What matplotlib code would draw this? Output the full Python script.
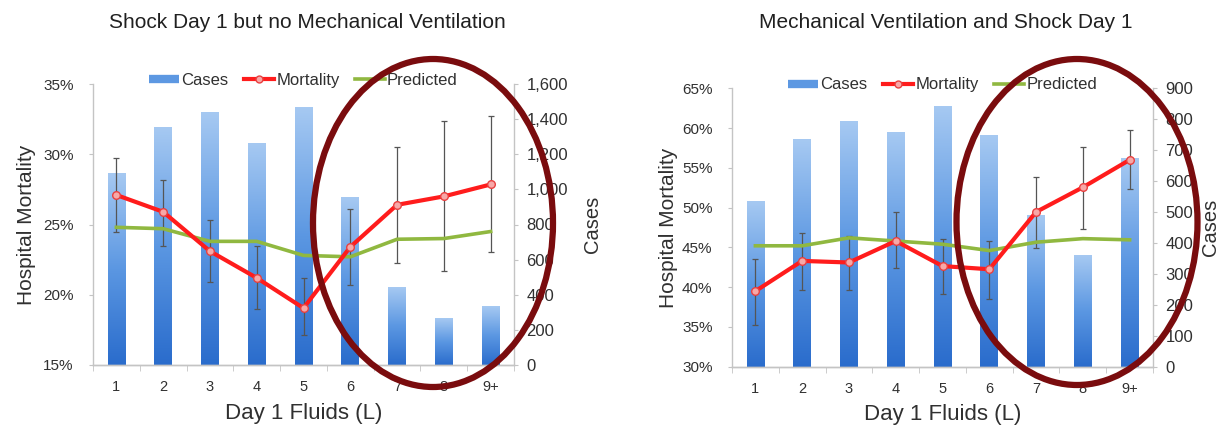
import numpy as np
import matplotlib
matplotlib.use('Agg')
import matplotlib.pyplot as plt
from matplotlib.colors import LinearSegmentedColormap
from matplotlib.lines import Line2D
from matplotlib.patches import Ellipse
from matplotlib.ticker import FuncFormatter, MultipleLocator

plt.rcParams['font.family'] = ['Liberation Sans', 'DejaVu Sans']

fluids = ['1', '2', '3', '4', '5', '6', '7', '8', '9+']

# Shock day 1, no mechanical ventilation
cases_nomv = [1090, 1350, 1440, 1260, 1467, 953, 441, 262, 334]
mort_nomv = [27.1, 25.9, 23.1, 21.2, 19.05, 23.4, 26.4, 27.0, 27.85]
mort_lo_nomv = [24.5, 23.5, 20.9, 19.0, 17.1, 20.7, 22.25, 21.7, 23.05]
mort_hi_nomv = [29.75, 28.2, 25.3, 23.5, 21.2, 26.1, 30.5, 32.4, 32.7]
pred_nomv = [24.8, 24.7, 23.8, 23.8, 22.8, 22.7, 23.95, 24.0, 24.5]

# Mechanical ventilation and shock day 1
cases_mv = [535, 736, 795, 757, 842, 748, 491, 361, 675]
mort_mv = [39.5, 43.3, 43.1, 45.8, 42.65, 42.25, 49.45, 52.55, 56.0]
mort_lo_mv = [35.3, 39.7, 39.7, 42.4, 39.2, 38.55, 44.95, 47.3, 52.3]
mort_hi_mv = [43.6, 46.8, 46.4, 49.5, 46.0, 45.8, 53.9, 57.6, 59.8]
pred_mv = [45.2, 45.2, 46.2, 45.8, 45.4, 44.6, 45.65, 46.1, 45.95]

BLUE_CMAP = LinearSegmentedColormap.from_list('bars', ['#2a6ccc', '#5b97e2', '#a6c9f2'])
RED = '#ff1c1c'
GREEN = '#90b840'
GREY = '#c4c4c4'
TEXT = '#303030'


def draw_panel(ax, title, cases, mort, lo, hi, pred, ylim, cmax, cstep, title_x):
    x = np.arange(len(fluids))
    ax2 = ax.twinx()

    # gradient bars (Excel style)
    bars = ax2.bar(x, cases, width=0.38, color='none', edgecolor='none')
    grad = np.linspace(0, 1, 256).reshape(-1, 1)
    for b in bars:
        ax2.imshow(grad, cmap=BLUE_CMAP, origin='lower', aspect='auto',
                   interpolation='bilinear',
                   extent=[b.get_x(), b.get_x() + b.get_width(), 0, b.get_height()])
    ax2.set_ylim(0, cmax)
    ax2.set_xlim(-0.5, len(fluids) - 0.5)
    ax2.yaxis.set_major_locator(MultipleLocator(cstep))
    ax2.yaxis.set_major_formatter(FuncFormatter(lambda v, p: f'{v:,.0f}'))

    # mortality and predicted on top of the bars
    ax.set_zorder(ax2.get_zorder() + 1)
    ax.patch.set_visible(False)
    mort = np.array(mort)
    yerr = [mort - np.array(lo), np.array(hi) - mort]
    ax.errorbar(x, mort, yerr=yerr, fmt='none', ecolor='#555555',
                elinewidth=0.9, capsize=2.5, capthick=0.9, zorder=2)
    ax.plot(x, pred, color=GREEN, lw=2.6, zorder=3)
    ax.plot(x, mort, color=RED, lw=3, marker='o', ms=5.5,
            mfc='#f7a8a8', mec='#e84040', mew=1, zorder=4)

    ax.set_ylim(*ylim)
    ax.set_xlim(-0.5, len(fluids) - 0.5)
    ax.yaxis.set_major_locator(MultipleLocator(5))
    ax.yaxis.set_major_formatter(FuncFormatter(lambda v, p: f'{v:.0f}%'))
    ax.set_xticks(x)
    ax.set_xticklabels(fluids)
    ax.set_xticks(np.arange(-0.5, len(fluids)), minor=True)

    for a in (ax, ax2):
        a.spines['top'].set_visible(False)
        for s in ('left', 'right', 'bottom'):
            a.spines[s].set_color(GREY)
            a.spines[s].set_linewidth(1)
    ax.tick_params(axis='y', length=3, color=GREY, labelsize=11,
                   labelcolor=TEXT, pad=11)
    ax2.tick_params(axis='y', length=3, color=GREY, labelsize=12,
                    labelcolor=TEXT, pad=6)
    ax.tick_params(axis='x', which='major', length=0, pad=11,
                   labelsize=10.5, labelcolor=TEXT)
    ax.tick_params(axis='x', which='minor', length=4, color=GREY)
    ax2.spines['left'].set_visible(False)
    ax.spines['right'].set_visible(False)

    ax.set_ylabel('Hospital Mortality', fontsize=15, color=TEXT)
    ax2.set_ylabel('Cases', fontsize=14.5, color=TEXT)
    ax.set_xlabel('Day 1 Fluids (L)', fontsize=16, color=TEXT)
    ax.yaxis.set_label_coords(-0.135, 0.5)
    ax.xaxis.set_label_coords(0.5, -0.135)

    handles = [Line2D([], [], color='#5d98e2', lw=6, solid_capstyle='butt'),
               Line2D([], [], color=RED, lw=3, marker='o', ms=5,
                      mfc='#f7a8a8', mec='#e84040'),
               Line2D([], [], color=GREEN, lw=2.6)]
    ax.legend(handles, ['Cases', 'Mortality', 'Predicted'], ncol=3,
              loc='center', bbox_to_anchor=(0.5, 1.012), frameon=False,
              fontsize=12, handlelength=1.8, handletextpad=0.15,
              columnspacing=0.9, labelcolor=TEXT, borderaxespad=0)

    fig.text(title_x, 1 - 23 / 428, title, ha='center', va='center',
             fontsize=15, color='#202020')
    return ax2


fig = plt.figure(figsize=(12.24, 4.28), dpi=100)
axL = fig.add_axes([93 / 1224, 63 / 428, 421 / 1224, 281 / 428])
axR = fig.add_axes([732 / 1224, 61.3 / 428, 421 / 1224, 278.4 / 428])

axL2 = draw_panel(axL, 'Shock Day 1 but no Mechanical Ventilation', cases_nomv,
                  mort_nomv, mort_lo_nomv, mort_hi_nomv, pred_nomv,
                  (15, 35), 1600, 200, 307 / 1224)
axR2 = draw_panel(axR, 'Mechanical Ventilation and Shock Day 1', cases_mv,
                  mort_mv, mort_lo_mv, mort_hi_mv, pred_mv,
                  (30, 65), 900, 100, 946 / 1224)
axL2.yaxis.set_label_coords(1.165, 0.5)
axR2.yaxis.set_label_coords(1.115, 0.5)
axR.yaxis.set_label_coords(-0.128, 0.5)

# highlight circles drawn by hand on the original slide
for cx, cy, w, h in [(433, 223, 240, 328), (1077, 222, 241, 326)]:
    fig.add_artist(Ellipse((cx / 100, (428 - cy) / 100), w / 100, h / 100,
                           transform=fig.dpi_scale_trans, fill=False,
                           edgecolor='#7a0c0e', lw=4.5, zorder=10))

fig.savefig('out.png', dpi=100)
